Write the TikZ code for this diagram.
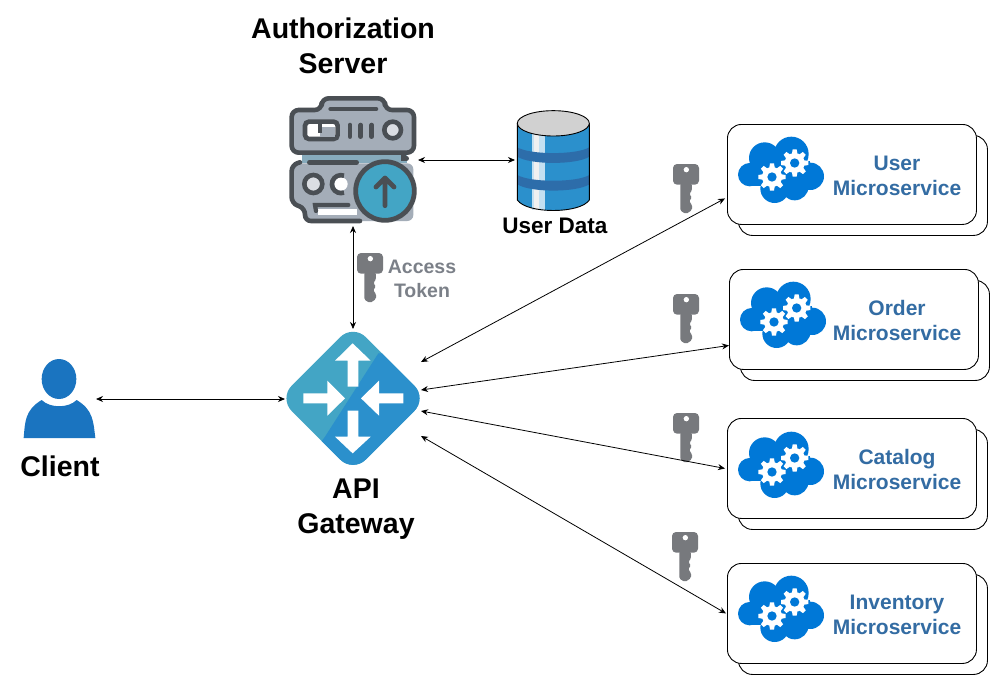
\documentclass[tikz,border=0pt]{standalone}
\usepackage{fontspec}
\setmainfont{Liberation Sans}
\usetikzlibrary{arrows.meta}
\definecolor{dark}{HTML}{4A4F54}
\definecolor{steel}{HTML}{A4ADB8}
\definecolor{teal}{HTML}{43A5C5}
\definecolor{mixblue}{HTML}{2B90CC}
\definecolor{azure}{HTML}{0078D7}
\definecolor{band}{HTML}{2D6DAA}
\definecolor{keygray}{HTML}{77797D}
\definecolor{tokengray}{HTML}{7B8088}
\definecolor{labelblue}{HTML}{336CA3}
\definecolor{person}{HTML}{1A74C0}
\tikzset{
  x=1pt,y=-1pt,
  conn/.style={{Stealth[length=7pt,width=6pt]}-{Stealth[length=7pt,width=6pt]},line width=0.8pt,black},
  anchorbox/.style={inner sep=0pt,outer sep=0pt,minimum width=#1},
  svcbox/.style={draw=black,line width=0.9pt,fill=white,rounded corners=14pt,minimum width=249pt,minimum height=100pt,inner sep=0pt},
  bigtitle/.style={font=\bfseries\fontsize{28.5}{34.5}\selectfont,align=center,black},
  midtitle/.style={font=\bfseries\fontsize{22.5}{26}\selectfont,align=center,black},
  tokentext/.style={font=\bfseries\fontsize{19.5}{24}\selectfont,align=center,tokengray},
  svctext/.style={font=\bfseries\fontsize{21}{25}\selectfont,align=center,labelblue},
  keyicon/.pic={
    \begin{scope}[scale=1/3]
      \fill[keygray,rounded corners=4pt] (-39,0) rectangle (39,62);
      \fill[keygray,rounded corners=1.5pt] (-17,58) -- (-17,140) -- (0,150) -- (18,138) -- (18,122) -- (9,112) -- (18,100) -- (9,90) -- (18,80) -- (17,58) -- cycle;
      \fill[white] (1,17) circle (8);
    \end{scope}
  },
  cloudicon/.pic={
    \begin{scope}[scale=1/3,shift={(-22,-28)}]
      \fill[azure] (90,180) circle (35) (135,130) circle (47) (215,118) circle (52)
        (272,185) circle (41) (165,222) circle (43) (225,215) circle (42);
      \fill[azure] (90,140) rectangle (270,215);
      \foreach \cx/\cy in {157/187,225/145}{
        \foreach \a in {0,45,...,315}{
          \fill[white,shift={(\cx,\cy)},rotate=\a] (-6,-41) -- (6,-41) -- (13,0) -- (-13,0) -- cycle;
        }
        \fill[white] (\cx,\cy) circle (30);
        \fill[azure] (\cx,\cy) circle (14);
      }
    \end{scope}
  }
}
\begin{document}
\begin{tikzpicture}
\useasboundingbox (0,0) rectangle (1007,688);
\fill[white] (0,0) rectangle (1007,688);

% ---- Authorization server icon
\begin{scope}[shift={(270,85)},scale=1/3]
  \fill[steel!70!teal] (95,203) rectangle (410,235);
  \fill[steel,rounded corners=6pt] (65,235) -- (430,235) -- (430,408) -- (105,408) -- (105,365) -- (65,360) -- cycle;
  \draw[dark,line width=4.6pt,fill=steel,rounded corners=7pt,line join=round] (65,75) -- (155,75) -- (155,40) -- (345,40) -- (345,75) -- (432,75) -- (432,203) -- (65,203) -- cycle;
  \draw[dark,line width=4.6pt,line cap=round] (182,72) -- (318,72);
  \draw[dark,line width=4.6pt,rounded corners=4pt,fill=white] (105,110) rectangle (203,162);
  \fill[steel] (150,125) rectangle (195,155);
  \draw[dark,line width=4pt] (150,110) -- (150,145);
  \draw[dark,line width=4.6pt,line cap=round] (240,120) -- (240,155) (272,120) -- (272,155) (305,120) -- (305,155);
  \draw[dark,line width=4.6pt,fill=steel!40!white] (368,135) circle (25);
  \draw[dark,line width=4.6pt,line cap=round] (400,205) -- (400,220) -- (410,220);
  \draw[dark,line width=4.6pt,rounded corners=6pt,line cap=round] (90,232) -- (65,240) -- (65,355) -- (105,370) -- (105,408) -- (270,408);
  \draw[dark,line width=4.6pt,line cap=round] (118,232) -- (260,232);
  \draw[dark,line width=4.6pt,fill=steel!40!white] (130,297) circle (27);
  \fill[white] (213,297) circle (20);
  \draw[dark,line width=4.6pt] (222,272) arc[start angle=-70,end angle=-290,radius=27];
  \fill[white] (145,372) rectangle (262,390);
  \draw[dark,line width=4.2pt,line cap=round] (138,378) -- (135,360) -- (235,360);
  \draw[dark,line width=4.8pt,fill=teal] (345,318) circle (88);
  \draw[dark,line width=4.8pt,line cap=round,line join=round] (345,362) -- (345,282) (318,306) -- (345,279) -- (372,306);
\end{scope}
\node[anchorbox=130pt,minimum height=131pt] (server) at (353,160) {};
\coordinate (serverE) at (418,160);
\coordinate (serverS) at (353,226);

% ---- Database icon
\begin{scope}[shift={(500,100)},scale=1/3]
  \fill[mixblue] (52,70) -- (52,300) .. controls (80,342) and (240,342) .. (268,300) -- (268,70) -- cycle;
  \fill[white!72!mixblue] (97,100) rectangle (135,330);
  \fill[white!88!gray] (103,100) rectangle (118,330);
  \fill[band] (52,142) .. controls (90,165) and (230,165) .. (268,142) -- (268,170) .. controls (230,195) and (90,195) .. (52,170) -- cycle;
  \fill[band] (52,225) .. controls (90,248) and (230,248) .. (268,225) -- (268,253) .. controls (230,278) and (90,278) .. (52,253) -- cycle;
  \draw[black,line width=0.9pt] (52,70) -- (52,300) .. controls (80,342) and (240,342) .. (268,300) -- (268,70);
  \draw[black,line width=0.9pt,fill=black!18] (160,70) ellipse[x radius=108,y radius=38];
\end{scope}
\node[anchorbox=74pt,minimum height=92pt] (userdata) at (552,160) {};

% ---- Client icon
\begin{scope}[shift={(10,350)},scale=1/3]
  \fill[person] (147,87) ellipse[x radius=52,y radius=60];
  \fill[person] (41,264) .. controls (45,215) and (45,180) .. (95,150) .. controls (120,175) and (175,175) .. (200,150) .. controls (250,180) and (250,215) .. (256,264) -- cycle;
\end{scope}
\node[anchorbox=72pt,minimum height=90pt] (client) at (60,399) {};

% ---- Gateway icon
\begin{scope}[shift={(275,240)},scale=1/3]
  \begin{scope}
    \clip[rounded corners=18pt] (234,253) -- (456,475) -- (234,697) -- (12,475) -- cycle;
    \fill[teal] (0,240) rectangle (470,710);
    \fill[mixblue] (310,340) -- (480,340) -- (480,710) -- (60,710) -- (150,590) -- cycle;
  \end{scope}
  \fill[white] (233,310) -- (287,362) -- (250,362) -- (250,440) -- (218,440) -- (218,362) -- (180,362) -- cycle;
  \fill[white] (233,640) -- (287,590) -- (250,590) -- (250,512) -- (218,512) -- (218,590) -- (180,590) -- cycle;
  \fill[white] (210,475) -- (157,422) -- (157,460) -- (85,460) -- (85,490) -- (157,490) -- (157,527) -- cycle;
  \fill[white] (258,475) -- (312,422) -- (312,460) -- (385,460) -- (385,490) -- (312,490) -- (312,527) -- cycle;
\end{scope}
\node[anchorbox=136pt,minimum height=140pt] (gateway) at (353,399) {};

% ---- Microservices
\node[svcbox,anchor=north west] (userback) at (738,135) {};
\node[svcbox,anchor=north west] (userbox) at (727,124) {};
\pic at (727,124) {cloudicon};
\node[svcbox,anchor=north west] (orderback) at (740,280) {};
\node[svcbox,anchor=north west] (orderbox) at (729,269) {};
\pic at (729,269) {cloudicon};
\node[svcbox,anchor=north west] (catalogback) at (738,429) {};
\node[svcbox,anchor=north west] (catalogbox) at (727,418) {};
\pic at (727,419) {cloudicon};
\node[svcbox,anchor=north west] (inventoryback) at (738,574) {};
\node[svcbox,anchor=north west] (inventorybox) at (727,563) {};
\pic at (727,563) {cloudicon};

% ---- Keys
\pic at (686,164) {keyicon};
\pic at (686,294) {keyicon};
\pic at (686,413) {keyicon};
\pic at (685,532) {keyicon};
\pic at (370,253) {keyicon};

% ---- Labels
\node[bigtitle] (authlabel) at (343,46) {Authorization\\Server};
\node[bigtitle] (gwlabel) at (356,509) {API\\Gateway};
\node[bigtitle] (clientlabel) at (60,466) {Client};
\node[midtitle] (datalabel) at (555,226) {User Data};
\node[tokentext] (tokenlabel) at (422,279) {Access\\Token};
\node[svctext] (userlabel) at (897,175.500) {User\\Microservice};
\node[svctext] (orderlabel) at (897,320.500) {Order\\Microservice};
\node[svctext] (cataloglabel) at (897,469.500) {Catalog\\Microservice};
\node[svctext] (inventorylabel) at (897,614.500) {Inventory\\Microservice};

% ---- Connectors
\coordinate (gwA) at (421,362);
\coordinate (gwB) at (421,390);
\coordinate (gwC) at (421,411);
\coordinate (gwD) at (421,436);
\draw[conn] (client.east) -- (gateway.west);
\draw[conn] (serverS) -- (gateway.north);
\draw[conn] (serverE) -- (userdata.west);
\draw[conn] (gwA) -- ([xshift=-2pt,yshift=-24pt]userbox.west);
\draw[conn] (gwB) -- ([yshift=-26pt]orderbox.west);
\draw[conn] (gwC) -- ([xshift=-2pt]catalogbox.west);
\draw[conn] (gwD) -- ([xshift=-1pt]inventorybox.west);
\end{tikzpicture}
\end{document}
